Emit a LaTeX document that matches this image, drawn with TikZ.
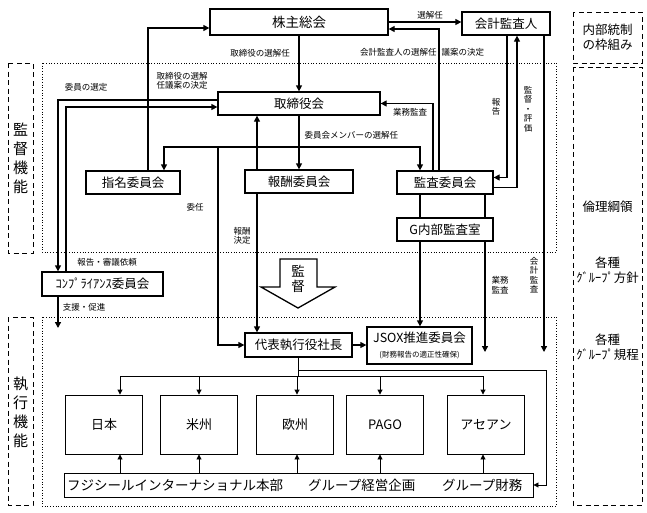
\documentclass[tikz,border=0pt]{standalone}
\usepackage{fontspec}
\setmainfont{Noto Sans CJK JP}
\usetikzlibrary{arrows.meta,calc,positioning}

\begin{document}
\begin{tikzpicture}[x=1pt,y=-1pt,line width=1.3pt,
  box/.style={draw,line width=1.3pt,inner sep=0pt,font=\fontsize{12.5}{14}\selectfont},
  region/.style={draw,line width=0.9pt,inner sep=0pt,minimum width=77pt,minimum height=59pt,font=\fontsize{13}{15}\selectfont},
  arr/.style={-{Triangle[length=6pt,width=6pt]}},
  arr small/.style={line width=0.9pt,-{Triangle[length=5pt,width=5pt]}},
  lbl/.style={inner sep=0pt,font=\fontsize{8.5}{9.5}\selectfont,align=center},
  side/.style={line width=1pt,dash pattern=on 5pt off 3.5pt},
  area/.style={line width=0.7pt,dotted}]
\def\big{\fontsize{15}{19}\selectfont}
\def\mid{\fontsize{12.5}{15}\selectfont}
\fill[white] (0,0) rectangle (647,512);
\useasboundingbox (0,0) rectangle (647,512);

% frames
\draw[area] (42,63) rectangle (556,252);
\draw[area] (42,317) rectangle (556,506);
\draw[side] (8,63) rectangle (33,253);
\draw[side] (8,317) rectangle (33,505);
\draw[side] (573,12) rectangle (642,63);
\draw[side] (573,67) rectangle (642,505);
\node[inner sep=0pt,font=\big,align=center] (kantoku) at (20.5,158) {監\\督\\機\\能};
\node[inner sep=0pt,font=\big,align=center] (shikko) at (20.5,412) {執\\行\\機\\能};
\node[inner sep=0pt,font=\mid,align=center] (waku) at (607.5,37) {内部統制\\の枠組み};
\node[inner sep=0pt,font=\mid] (rinri) at (607.5,207) {倫理綱領};
\node[inner sep=0pt,font=\mid,align=center] (hoshin) at (607.5,270) {各種\\ｸﾞﾙｰﾌﾟ方針};
\node[inner sep=0pt,font=\mid,align=center] (kitei) at (607.5,347) {各種\\ｸﾞﾙｰﾌﾟ規程};

% boxes
\node[box,minimum width=178pt,minimum height=26pt,font=\fontsize{13.5}{15}\selectfont] (kabu) at (299,22) {株主総会};
\node[box,minimum width=88pt,minimum height=23pt] (kaikei) at (506,23.5) {会計監査人};
\node[box,minimum width=162pt,minimum height=23pt] (tori) at (299,103.5) {取締役会};
\node[box,minimum width=94pt,minimum height=23pt] (shimei) at (133,182.5) {指名委員会};
\node[box,minimum width=108pt,minimum height=23pt] (hoshu) at (299,181.5) {報酬委員会};
\node[box,minimum width=96pt,minimum height=23pt] (kansa) at (445,182.5) {監査委員会};
\node[box,minimum width=96pt,minimum height=23pt] (gnai) at (445,229.5) {G内部監査室};
\node[box,minimum width=121pt,minimum height=24pt] (comp) at (102.5,284) {ｺﾝﾌﾟﾗｲｱﾝｽ委員会};
\node[box,minimum width=107pt,minimum height=24pt] (ceo) at (298.5,345) {代表執行役社長};
\node[box,minimum width=105pt,minimum height=37pt,align=center] (jsox) at (419.5,345.5)
  {JSOX推進委員会\\[1pt]{\fontsize{7.5}{8}\selectfont (財務報告の適正性確保)}};

\foreach \nm/\txt/\cx in {jp/日本/104,us/米州/199,eu/欧州/295,pago/PAGO/385,asean/アセアン/486}
  \node[region] (\nm) at (\cx,424.5) {\txt};
\node[region,minimum width=469pt,minimum height=24pt] (bar) at (298.5,485) {};
\node[inner sep=0pt,anchor=west,font=\fontsize{13.5}{15}\selectfont] (honbu) at ([xshift=3pt]bar.west) {フジシールインターナショナル本部};
\node[inner sep=0pt,anchor=west,font=\fontsize{13.5}{15}\selectfont] (keiei) at ([xshift=244pt]bar.west) {グループ経営企画};
\node[inner sep=0pt,anchor=west,font=\fontsize{13.5}{15}\selectfont] (zaimu) at ([xshift=378pt]bar.west) {グループ財務};

% supervision
\draw[arr] (kabu.south) -- (tori.north);
\draw[arr] ([xshift=15pt]shimei.north) |- ([yshift=-6pt]kabu.west);
\draw[arr] (kabu.east) -- (kabu.east -| kaikei.west);
\draw[arr] ([xshift=-6pt]kansa.north) |- ([yshift=-7pt]kabu.east);
\draw[arr] ([xshift=-12pt]kansa.north) |- (tori.east);
\draw[arr] (tori.south) -- (hoshu.north);
\coordinate (jn) at (tori.south |- 0,147);
\coordinate (dl) at (218,147);
\draw[arr] (jn) -| ([xshift=31pt]shimei.north);
\draw[arr] (jn) -| ([xshift=-25pt]kansa.north);
\draw[arr] ([xshift=-42pt]hoshu.north) coordinate (h1) -- (h1 |- tori.south);
\draw[arr] ([xshift=-42pt]hoshu.south) coordinate (h2) -- (h2 |- ceo.north);
\draw[arr] (dl) |- (ceo.west);

\draw[arr] ([xshift=1pt]kaikei.south) |- ([yshift=5pt]kansa.east);
\draw[arr] ([yshift=-5pt]kansa.east) -| ([xshift=11pt]kaikei.south);
\coordinate (kend) at (544,352);
\draw[arr] (kaikei.south -| kend) -- (kend);

\draw ([xshift=-25pt]kansa.south) -- ([xshift=-25pt]gnai.north);
\draw ([xshift=40pt]kansa.south) -- ([xshift=40pt]gnai.north);
\draw[arr] ([xshift=-25pt]gnai.south) coordinate (g1) -- (g1 |- jsox.north);
\coordinate (gend) at (485,352);
\draw[arr] (gnai.south -| gend) -- (gend);

\draw[arr] ([yshift=3.5pt]tori.west) -| ([xshift=-44.5pt]comp.north);
\draw[arr] ([xshift=-36.5pt]comp.north) |- ([yshift=-3.5pt]tori.west);
\coordinate (cend) at (58,328);
\draw[arr] (comp.south -| cend) -- (cend);

\draw[arr] (ceo.east) -- (ceo.east -| jsox.west);

% big arrow
\draw (280,259) -- (317,259) -- (317,287) -- (335,287) -- (298,308) -- (261,287) -- (280,287) -- cycle;
\node[inner sep=0pt,align=center,font=\fontsize{13.5}{14.5}\selectfont] (kt) at (298,279) {監\\督};

% execution
\coordinate (rj) at (ceo.south |- 0,376);
\draw (ceo.south) -- (rj);
\foreach \nm/\ax in {jp/120,us/199,eu/297,pago/380,asean/483} {
  \draw[arr small] (rj) -| (\nm.north -| \ax,0);
  \draw[arr small] (bar.north -| \ax,0) -- (\nm.south -| \ax,0);
}
\draw[arr small] (ceo.south |- 0,370) -| ([xshift=13pt]bar.east) -- (bar.east);

% labels
\node[lbl] (l1) at (260,53) {取締役の選解任};
\node[lbl] (l2) at (182,81) {取締役の選解\\任議案の決定};
\node[lbl] (l3) at (86,87) {委員の選定};
\node[lbl] (l4) at (430,15) {選解任};
\node[lbl] (l5) at (422,52) {会計監査人の選解任\hspace{5pt}議案の決定};
\node[lbl] (l6) at (410,112) {業務監査};
\node[lbl,anchor=west] (l7) at (304,135) {委員会メンバーの選解任};
\node[lbl] (l8) at (496,107) {報\\告};
\node[lbl] (l9) at (528,109) {監\\督\\・\\評\\価};
\node[lbl] (l10) at (195,207) {委任};
\node[lbl] (l11) at (242,236) {報酬\\決定};
\node[lbl] (l12) at (107,262) {報告・審議依頼};
\node[lbl] (l13) at (84,307) {支援・促進};
\node[lbl] (l14) at (500,285) {業務\\監査};
\node[lbl] (l15) at (534,275) {会\\計\\監\\査};
\end{tikzpicture}
\end{document}
